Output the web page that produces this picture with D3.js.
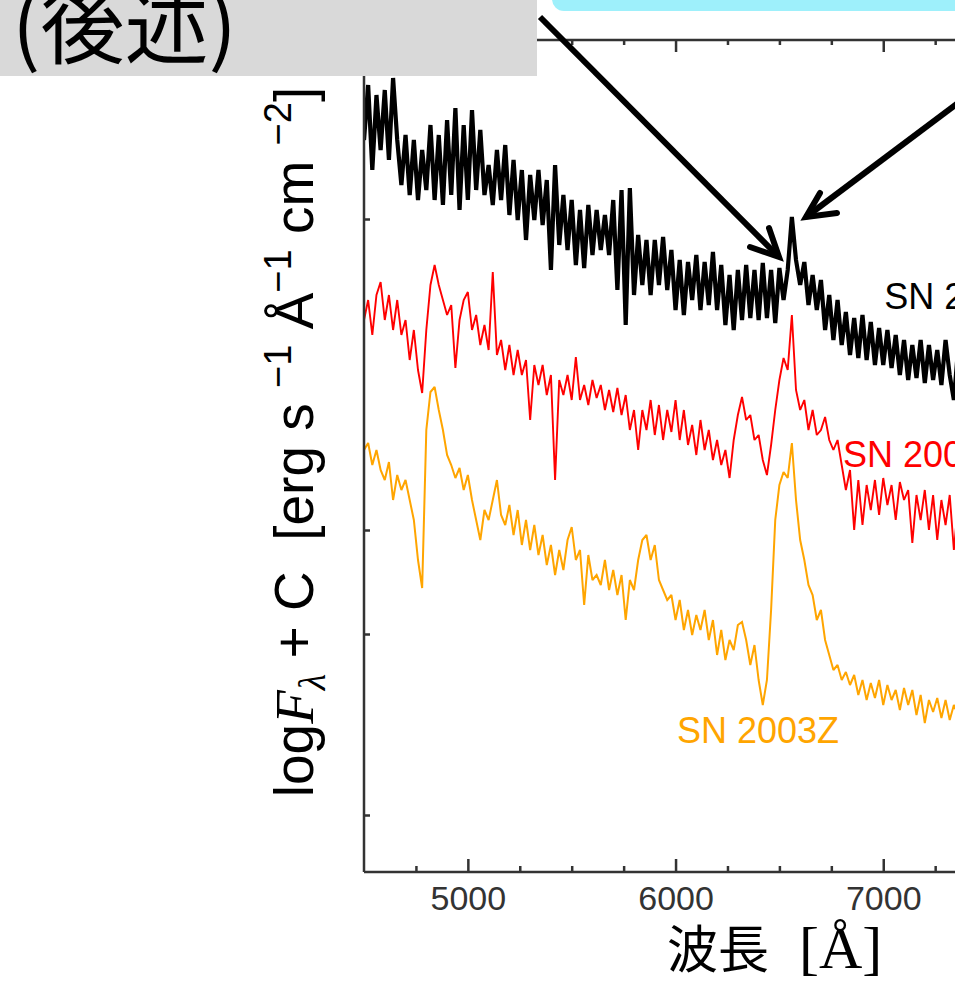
<!DOCTYPE html>
<html lang="ja">

<head>
    <meta charset="UTF-8">
    <meta name="viewport" content="width=device-width, initial-scale=1.0">
    <script src="https://d3js.org/d3.v7.min.js"></script>
    <title>SN spectra</title>
    <style>
        body {
            margin: 0;
            background: white;
        }

        svg {
            display: block;
        }

        text {
            white-space: pre;
        }

        .axis path,
        .axis line {
            stroke: #333;
            stroke-width: 2.5px;
        }

        .axis text {
            font-family: "Liberation Sans", Arial, sans-serif;
            font-size: 34px;
            fill: #333;
        }
    </style>
</head>

<body>
    <div class="fig"></div>

    <script>
        /*------------------- Data --------------------*/
        // wavelength grid [Å], one sample every 20 Å
        const wavelengths = d3.range(4500, 7361, 20);

        // log F + C (arbitrary offsets)
        const sn2018zd = [
            7.32, 7.87, 7.02, 7.77, 7.22, 7.82, 7.12, 7.94, 7.32, 6.87, 7.37, 6.77,
            7.32, 6.72, 7.22, 6.82, 7.47, 6.72, 7.37, 6.67, 7.52, 6.77, 7.64, 6.62,
            7.47, 6.72, 7.62, 6.82, 7.42, 6.77, 7.07, 6.67, 7.22, 6.72, 7.27, 6.57,
            7.12, 6.52, 7.02, 6.32, 6.97, 6.52, 7.02, 6.47, 6.92, 6.02, 7.07, 6.27,
            6.77, 6.22, 6.72, 6.07, 6.62, 6.04, 6.67, 6.17, 6.62, 6.22, 6.57, 6.17,
            6.72, 5.82, 6.82, 5.47, 6.84, 5.77, 6.37, 5.87, 6.32, 5.77, 6.32, 5.87,
            6.35, 5.82, 6.22, 5.62, 6.12, 5.57, 6.10, 5.72, 6.17, 5.62, 6.10, 5.67,
            6.20, 5.62, 6.07, 5.47, 5.97, 5.42, 6.02, 5.52, 6.07, 5.54, 6.02, 5.52,
            6.09, 5.54, 6.02, 5.49, 6.04, 5.72, 6.02, 6.55, 6.12, 5.87, 6.10, 5.67,
            5.97, 5.62, 5.92, 5.42, 5.77, 5.32, 5.72, 5.27, 5.60, 5.17, 5.54, 5.14,
            5.57, 5.12, 5.50, 5.07, 5.44, 5.07, 5.42, 5.04, 5.37, 4.97, 5.32, 4.92,
            5.27, 4.94, 5.32, 4.89, 5.27, 4.92, 5.22, 4.87, 5.32, 4.97, 4.72, 5.22
        ];

        const sn2005cs = [
            5.52, 5.72, 5.37, 5.77, 5.90, 5.52, 5.77, 5.42, 5.72, 5.37, 5.52, 5.12,
            5.42, 5.02, 4.79, 5.42, 5.87, 6.07, 5.87, 5.72, 5.57, 5.67, 5.04, 5.52,
            5.72, 5.80, 5.42, 5.57, 5.27, 5.47, 5.22, 6.00, 5.17, 5.32, 5.02, 5.27,
            4.97, 5.22, 4.97, 5.12, 4.52, 5.07, 4.87, 5.07, 4.77, 4.97, 3.92, 4.92,
            4.77, 4.97, 4.72, 5.15, 4.72, 4.87, 4.67, 4.92, 4.74, 4.87, 4.62, 4.82,
            4.60, 4.84, 4.57, 4.77, 4.42, 4.62, 4.22, 4.62, 4.42, 4.72, 4.37, 4.67,
            4.32, 4.62, 4.40, 4.72, 4.32, 4.62, 4.27, 4.47, 4.17, 4.52, 4.22, 4.42,
            4.12, 4.32, 4.07, 4.22, 3.94, 4.32, 4.57, 4.75, 4.52, 4.57, 4.32, 4.37,
            4.12, 3.97, 4.27, 4.62, 4.92, 5.14, 5.02, 5.57, 4.82, 4.62, 4.72, 4.42,
            4.62, 4.37, 4.42, 4.55, 4.32, 4.22, 4.32, 4.07, 3.82, 4.02, 3.42, 3.92,
            3.47, 3.87, 3.62, 3.92, 3.57, 3.94, 3.67, 3.87, 3.52, 3.90, 3.72, 3.82,
            3.29, 3.77, 3.52, 3.82, 3.42, 3.77, 3.32, 3.72, 3.47, 3.77, 3.22, 3.67
        ];

        const sn2003Z = [
            4.22, 4.29, 4.07, 4.22, 4.02, 3.92, 4.10, 3.72, 3.97, 3.82, 3.92, 3.72,
            3.52, 3.12, 2.84, 4.42, 4.80, 4.85, 4.62, 4.42, 4.17, 4.07, 3.94, 4.04,
            3.82, 3.97, 3.72, 3.52, 3.32, 3.62, 3.52, 3.72, 3.92, 3.57, 3.47, 3.67,
            3.37, 3.62, 3.27, 3.52, 3.22, 3.47, 3.17, 3.37, 3.07, 3.27, 2.97, 3.22,
            3.02, 3.32, 3.45, 3.12, 3.22, 2.67, 3.17, 2.92, 2.97, 2.87, 3.12, 2.82,
            3.02, 2.77, 2.97, 2.52, 2.92, 2.82, 3.12, 3.32, 3.37, 3.12, 3.27, 2.92,
            2.82, 2.72, 2.77, 2.52, 2.72, 2.42, 2.62, 2.37, 2.57, 2.42, 2.62, 2.32,
            2.52, 2.17, 2.42, 2.12, 2.32, 2.22, 2.47, 2.50, 2.32, 2.07, 2.27, 1.92,
            1.67, 1.92, 2.62, 3.52, 3.87, 4.00, 3.94, 4.29, 3.72, 3.32, 3.12, 2.87,
            2.77, 2.52, 2.62, 2.32, 2.17, 2.02, 2.07, 1.92, 2.00, 1.87, 1.97, 1.77,
            1.92, 1.72, 1.89, 1.74, 1.92, 1.67, 1.87, 1.72, 1.82, 1.62, 1.84, 1.67,
            1.82, 1.57, 1.77, 1.49, 1.72, 1.60, 1.74, 1.54, 1.72, 1.52, 1.67, 1.57
        ];

        const seriesNames = ["SN 2018zd", "SN 2005cs", "SN 2003Z"];
        const seriesColors = ["#000000", "#ff0000", "#ffa500"];
        const seriesWidths = [4.2, 1.9, 2];
        // label anchor: [wavelength, logF]
        const labelPos = [[7005, 5.63], [6806, 4.05], [6007, 1.29]];

        const xMajorTicks = [5000, 6000, 7000];
        const xMinorTicks = [4750, 5250, 5500, 5750, 6250, 6500, 6750, 7250];
        const yTicks = [6.53, 3.42, 2.38, 0.57];

        /*------------------- Layout --------------------*/
        const width = 955;
        const height = 991;
        const plot = { left: 364, top: 40, bottom: 872 };

        const svg = d3.select(".fig").append("svg")
            .attr("width", width)
            .attr("height", height);

        const x = d3.scaleLinear()
            .domain([4500, 7500])
            .range([plot.left, plot.left + 3000 * 0.2077]);

        const y = d3.scaleLinear()
            .domain([0, 8.32])
            .range([plot.bottom, plot.top]);

        svg.append("clipPath").attr("id", "clip")
            .append("rect")
            .attr("x", plot.left).attr("y", plot.top)
            .attr("width", width - plot.left).attr("height", plot.bottom - plot.top);

        /*------------------- Spectra --------------------*/
        const line = d3.line()
            .x((d, i) => x(wavelengths[i]))
            .y(d => y(d));

        const spectra = [sn2018zd, sn2005cs, sn2003Z];

        // draw bottom to top so the black one stays above
        [2, 1, 0].forEach(k => {
            svg.append("path")
                .attr("clip-path", "url(#clip)")
                .attr("d", line(spectra[k]))
                .attr("fill", "none")
                .attr("stroke", seriesColors[k])
                .attr("stroke-width", seriesWidths[k])
                .attr("stroke-linejoin", "miter")
                .attr("stroke-miterlimit", 2);
        });

        svg.selectAll(".sn-label")
            .data(seriesNames)
            .enter()
            .append("text")
            .attr("class", "sn-label")
            .attr("x", (d, i) => x(labelPos[i][0]))
            .attr("y", (d, i) => y(labelPos[i][1]))
            .attr("fill", (d, i) => seriesColors[i])
            .style("font-family", "'Liberation Sans', Arial, sans-serif")
            .style("font-size", "36px")
            .text(d => d);

        /*------------------- Axes --------------------*/
        const gx = svg.append("g")
            .attr("class", "axis")
            .attr("transform", `translate(0,${plot.bottom})`)
            .call(d3.axisBottom(x).tickValues(xMajorTicks).tickSize(-13).tickPadding(14).tickFormat(d3.format("d")));
        gx.select(".domain").attr("d", `M${plot.left},0H${width}`);

        svg.append("g")
            .attr("class", "axis")
            .attr("transform", `translate(0,${plot.bottom})`)
            .call(d3.axisBottom(x).tickValues(xMinorTicks).tickSize(-6).tickFormat(""))
            .select(".domain").remove();

        const gt = svg.append("g")
            .attr("class", "axis")
            .attr("transform", `translate(0,${plot.top})`)
            .call(d3.axisTop(x).tickValues(xMajorTicks).tickSize(-12).tickFormat(""));
        gt.select(".domain").attr("d", `M${plot.left},0H${width}`);

        svg.append("g")
            .attr("class", "axis")
            .attr("transform", `translate(0,${plot.top})`)
            .call(d3.axisTop(x).tickValues(xMinorTicks).tickSize(-5).tickFormat(""))
            .select(".domain").remove();

        const gy = svg.append("g")
            .attr("class", "axis")
            .attr("transform", `translate(${plot.left},0)`)
            .call(d3.axisLeft(y).tickValues(yTicks).tickSize(-6).tickFormat(""));
        gy.select(".domain").attr("d", `M0,${plot.top}V${plot.bottom}`);

        /*------------------- Axis titles --------------------*/
        const xTitle = svg.append("text")
            .attr("x", 667)
            .attr("y", 968)
            .style("font-size", "51px")
            .style("font-family", "'Noto Sans CJK JP', sans-serif")
            .text("波長");
        xTitle.append("tspan")
            .attr("dx", 30)
            .style("font-family", "'Liberation Serif', serif")
            .style("font-size", "60px")
            .text("[Å]");

        const yTitle = svg.append("text")
            .attr("transform", "translate(313,442) rotate(-90)")
            .attr("text-anchor", "middle")
            .style("font-size", "55px")
            .style("font-family", "'Liberation Sans', Arial, sans-serif");
        const parts = [
            { t: "log" },
            { t: "F", it: true },
            { t: "λ", it: true, dy: 12, small: true },
            { t: " + C  [erg s ", dy: -12 },
            { t: "−1", dy: -22, small: true },
            { t: " Å", dy: 22 },
            { t: "−1", dy: -22, small: true },
            { t: " cm ", dy: 22 },
            { t: "−2", dy: -22, small: true },
            { t: "]", dy: 22 }
        ];
        parts.forEach(p => {
            const ts = yTitle.append("tspan").text(p.t);
            if (p.dy) ts.attr("dy", p.dy);
            if (p.it) ts.style("font-family", "'Liberation Serif', serif").style("font-style", "italic");
            if (p.small) ts.style("font-size", "38px");
        });

        /*------------------- Overlays --------------------*/
        svg.append("rect")
            .attr("x", 552).attr("y", -30)
            .attr("width", 450).attr("height", 41)
            .attr("rx", 12)
            .attr("fill", "#9ef0fb");

        svg.append("rect")
            .attr("x", 0).attr("y", 0)
            .attr("width", 537).attr("height", 76)
            .attr("fill", "#d9d9d9");

        svg.append("text")
            .attr("x", 12)
            .attr("y", 57)
            .style("font-size", "84px")
            .style("font-family", "'Noto Sans CJK JP', sans-serif")
            .text("(後述)");

        const arrows = [
            { from: [540, 17], to: [779, 257], a1: [750, 247], a2: [769, 228] },
            { from: [962, 100], to: [806, 217], a1: [837, 213], a2: [820, 193] }
        ];
        arrows.forEach(a => {
            svg.append("line")
                .attr("x1", a.from[0]).attr("y1", a.from[1])
                .attr("x2", a.to[0]).attr("y2", a.to[1])
                .attr("stroke", "black").attr("stroke-width", 6);
            svg.append("polyline")
                .attr("points", [a.a1, a.to, a.a2].map(p => p.join(",")).join(" "))
                .attr("fill", "none")
                .attr("stroke", "black").attr("stroke-width", 6)
                .attr("stroke-linecap", "round").attr("stroke-linejoin", "miter");
        });
    </script>
</body>
</html>
